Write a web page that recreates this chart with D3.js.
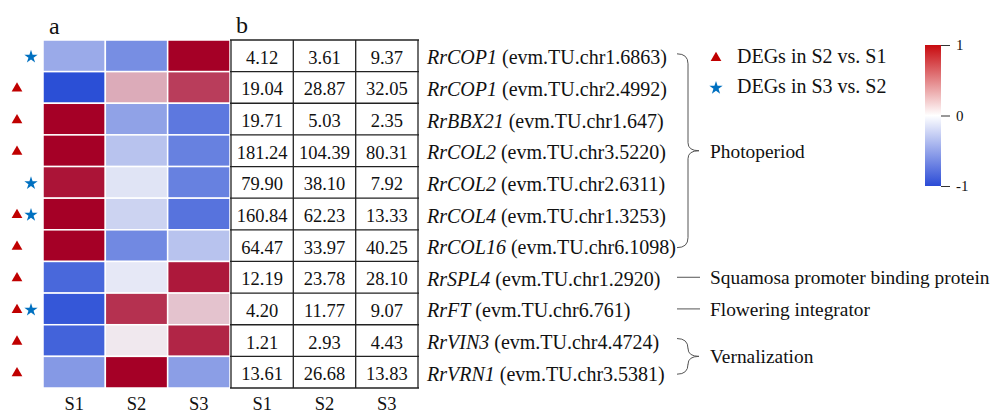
<!DOCTYPE html>
<html>
<head>
<meta charset="utf-8">
<script src="https://cdn.jsdelivr.net/npm/d3@7"></script>
<style>
  body { margin: 0; background: #fff; }
  svg text { font-family: 'Liberation Serif', 'Times New Roman', serif; fill: #111; }
</style>
</head>
<body>
<svg id="chart" width="996" height="413"></svg>
<script>
// gene names (italic part) and ids
var genes = ["RrCOP1", "RrCOP1", "RrBBX21", "RrCOL2", "RrCOL2", "RrCOL4", "RrCOL16",
             "RrSPL4", "RrFT", "RrVIN3", "RrVRN1"];
var geneIds = ["evm.TU.chr1.6863", "evm.TU.chr2.4992", "evm.TU.chr1.647", "evm.TU.chr3.5220",
               "evm.TU.chr2.6311", "evm.TU.chr1.3253", "evm.TU.chr6.1098", "evm.TU.chr1.2920",
               "evm.TU.chr6.761", "evm.TU.chr4.4724", "evm.TU.chr3.5381"];
var samples = ["S1", "S2", "S3"];

// expression values shown in table b
var S1 = ["4.12", "19.04", "19.71", "181.24", "79.90", "160.84", "64.47", "12.19", "4.20", "1.21", "13.61"];
var S2 = ["3.61", "28.87", "5.03", "104.39", "38.10", "62.23", "33.97", "23.78", "11.77", "2.93", "26.68"];
var S3 = ["9.37", "32.05", "2.35", "80.31", "7.92", "13.33", "40.25", "28.10", "9.07", "4.43", "13.83"];

var heatS1 = [-0.45, -1, 1, 1, 0.92, 1, 1, -0.85, -0.95, -0.88, -0.55];
var heatS2 = [-0.62, 0.3, -0.5, -0.3, -0.1, -0.2, -0.65, -0.07, 0.8, 0.05, 1];
var heatS3 = [1, 0.75, -0.75, -0.7, -0.7, -0.78, -0.3, 0.9, 0.2, 0.85, -0.52];

// DEG markers
var degS2S1 = [0, 1, 1, 1, 0, 1, 1, 1, 1, 1, 1];
var degS3S2 = [1, 0, 0, 0, 1, 1, 0, 0, 1, 0, 0];

var colorTicks = [1, 0, -1];

var svg = d3.select("#chart");
var rowIdx = d3.range(genes.length);

var y = d3.scaleBand().domain(rowIdx).range([40, 388]);
var xa = d3.scaleBand().domain(samples).range([43, 230]);
var xb = d3.scaleBand().domain(samples).range([231, 418]);

var color = d3.scaleLinear().domain([-1, 0, 1])
  .range(["#2b4fd6", "#f4f4f8", "#a50026"]).clamp(true);

var heat = [heatS1, heatS2, heatS3];
var vals = [S1, S2, S3];

// panel a: heatmap
var cells = [];
rowIdx.forEach(function(r) {
  samples.forEach(function(s, j) {
    cells.push({ r: r, s: s, v: heat[j][r], t: vals[j][r] });
  });
});

svg.append("g").selectAll("rect")
  .data(cells)
  .enter().append("rect")
  .attr("x", function(d) { return xa(d.s); })
  .attr("y", function(d) { return y(d.r); })
  .attr("width", xa.bandwidth())
  .attr("height", y.bandwidth())
  .attr("fill", function(d) { return color(d.v); })
  .attr("stroke", "#fff")
  .attr("stroke-width", 1.5);

// panel b: table
var tb = svg.append("g");
tb.selectAll("line.h")
  .data(d3.range(genes.length + 1))
  .enter().append("line")
  .attr("x1", 230).attr("x2", 419)
  .attr("y1", function(d) { return 40 + d * y.step(); })
  .attr("y2", function(d) { return 40 + d * y.step(); })
  .attr("stroke", "#222").attr("stroke-width", 1.3);
tb.selectAll("line.v")
  .data([231, 293.3, 355.7, 418])
  .enter().append("line")
  .attr("x1", function(d) { return d; }).attr("x2", function(d) { return d; })
  .attr("y1", 40).attr("y2", 388)
  .attr("stroke", "#222").attr("stroke-width", 1.3);
tb.selectAll("text")
  .data(cells)
  .enter().append("text")
  .attr("x", function(d) { return xb(d.s) + xb.bandwidth() / 2; })
  .attr("y", function(d) { return y(d.r) + y.bandwidth() / 2 + 8; })
  .attr("text-anchor", "middle")
  .attr("font-size", 18.5)
  .text(function(d) { return d.t; });

// column labels
[xa, xb].forEach(function(sc) {
  svg.append("g").selectAll("text")
    .data(samples)
    .enter().append("text")
    .attr("x", function(d) { return sc(d) + sc.bandwidth() / 2; })
    .attr("y", 410)
    .attr("text-anchor", "middle")
    .attr("font-size", 18.5)
    .text(function(d) { return d; });
});

svg.append("text").attr("x", 49).attr("y", 34).attr("font-size", 24).text("a");
svg.append("text").attr("x", 236).attr("y", 33).attr("font-size", 24).text("b");

// gene labels
var gl = svg.append("g").selectAll("text")
  .data(rowIdx)
  .enter().append("text")
  .attr("x", 427)
  .attr("y", function(d) { return y(d) + y.bandwidth() / 2 + 8.5; })
  .attr("font-size", 20);
gl.append("tspan").attr("font-style", "italic").text(function(d) { return genes[d]; });
gl.append("tspan").text(function(d) { return " (" + geneIds[d] + ")"; });

// markers
var tri = d3.symbol().type(d3.symbolTriangle).size(50);
var star = d3.symbol().type(d3.symbolStar).size(55);
var mk = svg.append("g");
mk.selectAll("path.tri")
  .data(rowIdx.filter(function(r) { return degS2S1[r]; }))
  .enter().append("path")
  .attr("d", tri)
  .attr("transform", function(d) { return "translate(17," + (y(d) + y.bandwidth() / 2 + 1) + ")"; })
  .attr("fill", "#c00000");
mk.selectAll("path.star")
  .data(rowIdx.filter(function(r) { return degS3S2[r]; }))
  .enter().append("path")
  .attr("d", star)
  .attr("transform", function(d) { return "translate(31," + (y(d) + y.bandwidth() / 2 + 1) + ")"; })
  .attr("fill", "#0070c0");

// braces / group lines
function cy(r) { return y(r) + y.bandwidth() / 2; }
function brace(y0, y1) {
  var m = (y0 + y1) / 2, x0 = 677, xs = 688, xt = 699;
  return "M" + x0 + "," + (y0 - 2) +
    " Q" + xs + "," + (y0 - 2) + " " + xs + "," + (y0 + 8) +
    " L" + xs + "," + (m - 8) +
    " Q" + xs + "," + m + " " + xt + "," + m +
    " Q" + xs + "," + m + " " + xs + "," + (m + 8) +
    " L" + xs + "," + (y1 - 8) +
    " Q" + xs + "," + (y1 + 2) + " " + x0 + "," + (y1 + 2);
}
var grp = svg.append("g").attr("fill", "none").attr("stroke", "#555").attr("stroke-width", 1);
grp.append("path").attr("d", brace(cy(0), cy(6)));
grp.append("path").attr("d", brace(cy(9), cy(10)));
grp.append("line").attr("x1", 677).attr("x2", 700).attr("y1", cy(7)).attr("y2", cy(7));
grp.append("line").attr("x1", 677).attr("x2", 700).attr("y1", cy(8)).attr("y2", cy(8));

var groups = [
  { t: "Photoperiod", y: (cy(0) + cy(6)) / 2 },
  { t: "Squamosa promoter binding protein", y: cy(7) },
  { t: "Flowering integrator", y: cy(8) },
  { t: "Vernalization", y: (cy(9) + cy(10)) / 2 }
];
svg.append("g").selectAll("text")
  .data(groups)
  .enter().append("text")
  .attr("x", 710)
  .attr("y", function(d) { return d.y + 7; })
  .attr("font-size", 19.4)
  .text(function(d) { return d.t; });

// legend
svg.append("path").attr("d", tri).attr("transform", "translate(716,58)").attr("fill", "#c00000");
svg.append("path").attr("d", star).attr("transform", "translate(716,88)").attr("fill", "#0070c0");
svg.append("text").attr("x", 737).attr("y", 63).attr("font-size", 20).text("DEGs in S2 vs. S1");
svg.append("text").attr("x", 737).attr("y", 93).attr("font-size", 20).text("DEGs in S3 vs. S2");

// colour bar
var cbY = d3.scaleLinear().domain([1, -1]).range([45, 186]);
var grad = svg.append("defs").append("linearGradient")
  .attr("id", "cb").attr("x1", 0).attr("x2", 0).attr("y1", 0).attr("y2", 1);
grad.append("stop").attr("offset", "0%").attr("stop-color", "#c80a0f");
grad.append("stop").attr("offset", "50%").attr("stop-color", "#ffffff");
grad.append("stop").attr("offset", "100%").attr("stop-color", "#2b4bd6");
svg.append("rect").attr("x", 925).attr("y", cbY(1)).attr("width", 16)
  .attr("height", cbY(-1) - cbY(1)).attr("fill", "url(#cb)");
var cbAxis = d3.axisRight(cbY).tickValues(colorTicks).tickSize(9).tickPadding(6)
  .tickFormat(function(d) { return String(d); });
var ax = svg.append("g").attr("transform", "translate(941,0)").call(cbAxis);
ax.attr("font-family", null);
ax.select(".domain").remove();
ax.selectAll("line").attr("stroke", "#333");
ax.selectAll("text").attr("font-size", 15).attr("fill", "#111");
</script>
</body>
</html>
